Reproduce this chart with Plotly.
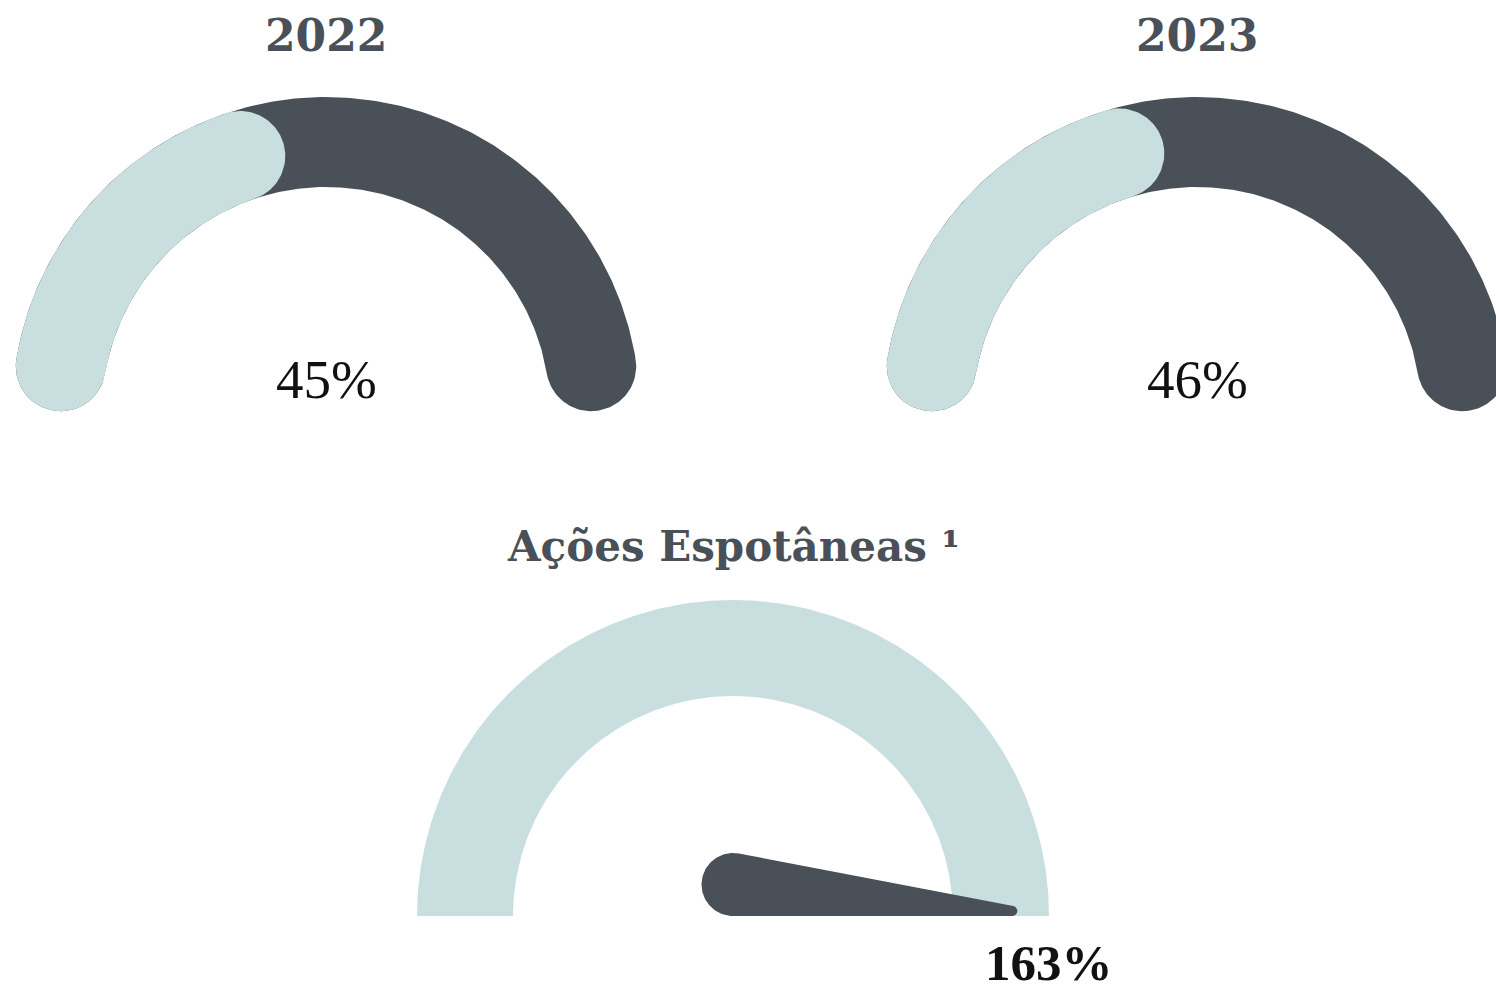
import numpy as np
import plotly.graph_objects as go

# ---- data -------------------------------------------------------------
years = ["2022", "2023"]
year_values = [45, 46]            # percent
gauge_max = 100

spont_title = "Ações Espotâneas ¹"
spont_value = 163                 # percent (needle is clamped at the gauge max)

# ---- style ------------------------------------------------------------
W, H = 1496, 992
DARK = "#4a5058"
LIGHT = "#c9dfdf"
TITLE_FONT = dict(family="DejaVu Serif", size=44, color=DARK, weight="bold")
LONG_TITLE_FONT = dict(family="DejaVu Serif", size=42, color=DARK, weight="bold")
VALUE_FONT = dict(family="Liberation Serif", size=55, color="#111111")
BIG_VALUE_FONT = dict(family="Liberation Serif", size=51, color="#111111", weight="bold")

# gauge frames in pixels: centre, outer radius, visible box (left, right, top, bottom)
TOP_R, TOP_W = 314, 90
BOT_R, BOT_W = 316, 96
frames = [
    dict(cx=326, cy=411, R=TOP_R, box=(0, 700, 80, 430)),
    dict(cx=1197, cy=411, R=TOP_R, box=(760, W, 80, 430)),
    dict(cx=733, cy=916, R=BOT_R, box=(380, 1110, 590, 935)),
]


def value_angle(v):
    """Map a value on [0, gauge_max] to an angle, 180 deg (min) -> 0 deg (max)."""
    v = min(max(v, 0), gauge_max)
    return np.radians(180.0 * (1 - v / gauge_max))


def arc(r, a0, a1, n=240):
    t = np.linspace(a0, a1, n)
    return r * np.cos(t), r * np.sin(t)


def ring(a_start, a_end, r_in, r_out, round_caps=False):
    """Annular sector from a_start down to a_end (radians, a_start > a_end)."""
    if not round_caps:
        xo, yo = arc(r_out, a_start, a_end)
        xi, yi = arc(r_in, a_end, a_start)
        return np.r_[xo, xi, xo[0]], np.r_[yo, yi, yo[0]]
    rm = (r_in + r_out) / 2
    hw = (r_out - r_in) / 2
    d = hw / rm
    s, e = a_start - d, a_end + d
    if s < e:
        s = e = (a_start + a_end) / 2
    xo, yo = arc(r_out, s, e)
    phi = np.linspace(0, np.pi, 60)
    # cap at the clockwise end
    u = np.array([np.cos(e), np.sin(e)])
    t = np.array([np.sin(e), -np.cos(e)])
    cap_e = (rm * u)[:, None] + hw * (np.outer(u, np.cos(phi)) + np.outer(t, np.sin(phi)))
    xi, yi = arc(r_in, e, s)
    # cap at the counter-clockwise end
    u2 = np.array([np.cos(s), np.sin(s)])
    t2 = np.array([-np.sin(s), np.cos(s)])
    cap_s = (rm * u2)[:, None] + hw * (np.outer(-u2, np.cos(phi)) + np.outer(t2, np.sin(phi)))
    x = np.r_[xo, cap_e[0], xi, cap_s[0]]
    y = np.r_[yo, cap_e[1], yi, cap_s[1]]
    return np.r_[x, x[0]], np.r_[y, y[0]]


def needle(angle, length, r_base, r_tip):
    """Tapered pointer resting on its axis, rounded at both ends."""
    c1 = np.array([0.0, r_base])
    c2 = np.array([length - r_tip, r_tip])
    dvec = c2 - c1
    dist = np.hypot(*dvec)
    e = dvec / dist
    ep = np.array([-e[1], e[0]])
    k = (r_base - r_tip) / dist
    q = np.sqrt(1 - k * k)
    n_top = k * e + q * ep
    n_bot = k * e - q * ep
    a_top = np.arctan2(n_top[1], n_top[0])
    a_bot = np.arctan2(n_bot[1], n_bot[0])
    ta = np.linspace(a_bot, a_top, 40)
    tip = c2[:, None] + r_tip * np.vstack([np.cos(ta), np.sin(ta)])
    ba = np.linspace(a_top, a_bot + 2 * np.pi, 120)
    base = c1[:, None] + r_base * np.vstack([np.cos(ba), np.sin(ba)])
    pts = np.hstack([tip, base])
    rot = np.array([[np.cos(angle), -np.sin(angle)], [np.sin(angle), np.cos(angle)]])
    pts = rot @ pts
    return np.r_[pts[0], pts[0, 0]], np.r_[pts[1], pts[1, 0]]


def poly(x, y, color, ax):
    return go.Scatter(x=x, y=y, mode="lines", fill="toself", fillcolor=color,
                      line=dict(width=0, color=color), hoverinfo="skip",
                      showlegend=False, xaxis=f"x{ax}", yaxis=f"y{ax}")


def paper_xy(f, x, y):
    """Gauge-unit coordinates -> paper fractions (for labels outside the plot area)."""
    return (f["cx"] + x * f["R"]) / W, 1 - (f["cy"] - y * f["R"]) / H


def label(f, text, x, y, font, yanchor="middle"):
    px, py = paper_xy(f, x, y)
    return dict(text=text, x=px, y=py, xref="paper", yref="paper", showarrow=False,
                font=font, xanchor="center", yanchor=yanchor, borderpad=0)


fig = go.Figure()
layout_axes = {}
for i, f in enumerate(frames):
    left, right, top, bottom = f["box"]
    R = f["R"]
    suffix = "" if i == 0 else str(i + 1)
    common = dict(visible=False, showgrid=False, zeroline=False, fixedrange=True)
    layout_axes[f"xaxis{suffix}"] = dict(
        domain=[left / W, right / W],
        range=[(left - f["cx"]) / R, (right - f["cx"]) / R],
        anchor=f"y{suffix}", **common)
    layout_axes[f"yaxis{suffix}"] = dict(
        domain=[1 - bottom / H, 1 - top / H],
        range=[(f["cy"] - bottom) / R, (f["cy"] - top) / R],
        anchor=f"x{suffix}", **common)

annotations = []

# ---- yearly gauges -----------------------------------------------------
r_in_top = (TOP_R - TOP_W) / TOP_R
for i, (year, val) in enumerate(zip(years, year_values)):
    ax = "" if i == 0 else str(i + 1)
    f = frames[i]
    bx, by = ring(np.pi, 0.0, r_in_top, 1.0, round_caps=True)
    fig.add_trace(poly(bx, by, DARK, ax))
    px, py = ring(np.pi, value_angle(val), r_in_top, 1.0, round_caps=True)
    fig.add_trace(poly(px, py, LIGHT, ax))
    annotations.append(label(f, year, 0, 1.195, TITLE_FONT))
    annotations.append(label(f, f"{val}%", 0, 0.10, VALUE_FONT))

# ---- spontaneous actions gauge ----------------------------------------
f = frames[2]
r_in_bot = (BOT_R - BOT_W) / BOT_R
gx, gy = ring(np.pi, 0.0, r_in_bot, 1.0)
fig.add_trace(poly(gx, gy, LIGHT, 3))
nx, ny = needle(value_angle(spont_value), 0.90, 31.5 / BOT_R, 5.0 / BOT_R)
fig.add_trace(poly(nx, ny, DARK, 3))
annotations.append(label(f, spont_title, 0, 1.168, LONG_TITLE_FONT))
# value sits under the right end of the dial, resting on the bottom edge
annotations.append(label(f, f"{spont_value}%", 1.0, -(H - f["cy"]) / f["R"], BIG_VALUE_FONT,
                         yanchor="bottom"))

fig.update_layout(
    width=W, height=H, autosize=False,
    margin=dict(l=0, r=0, t=0, b=0),
    paper_bgcolor="white", plot_bgcolor="white",
    annotations=annotations,
    **layout_axes,
)

fig.write_html("out.html", config={"displayModeBar": False})
